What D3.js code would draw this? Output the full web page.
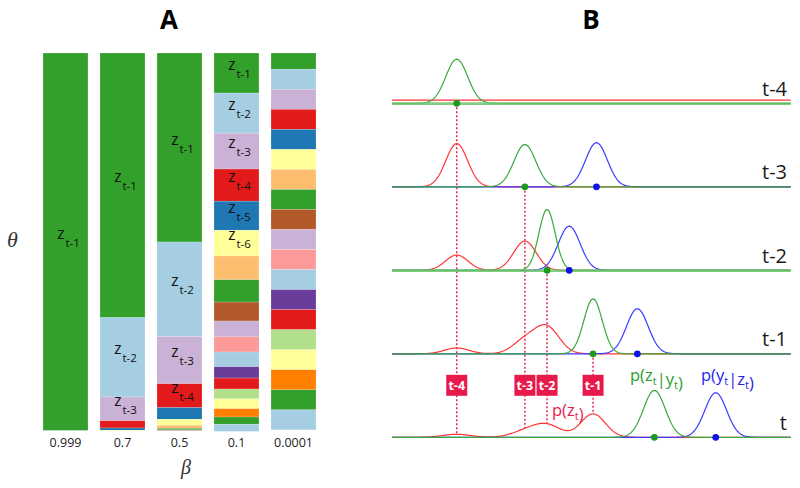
<!DOCTYPE html>
<html><head><meta charset="utf-8">
<script src="https://cdn.jsdelivr.net/npm/d3@7"></script>
<style>body{margin:0;background:#fff} svg{display:block}</style>
</head><body>
<svg id="c" width="800" height="488"></svg>
<script>
// ---------- Panel A data ----------
const betaLabels = ["0.999", "0.7", "0.5", "0.1", "0.0001"];
const bar0999 = [0.999, 0.001];
const bar07 = [0.7, 0.21, 0.063, 0.019, 0.006, 0.002];
const bar05 = [0.5, 0.25, 0.125, 0.063, 0.031, 0.016, 0.008, 0.004, 0.002, 0.001];
const bar01 = [0.106, 0.106, 0.095, 0.085, 0.077, 0.068, 0.063, 0.059, 0.050, 0.042, 0.040, 0.039, 0.030, 0.029, 0.026, 0.026, 0.022, 0.019, 0.019];
const bar00001 = [0.043, 0.053, 0.053, 0.053, 0.053, 0.053, 0.053, 0.053, 0.053, 0.053, 0.053, 0.053, 0.053, 0.053, 0.053, 0.053, 0.053, 0.053, 0.053];
const barValues = [bar0999, bar07, bar05, bar01, bar00001];
const labeledCounts = [1, 3, 4, 6, 0];
const segmentColors = ["#33a02c", "#a6cee3", "#cab2d6", "#e31a1c", "#1f78b4", "#ffff99", "#fdbf6f", "#33a02c", "#b15928", "#cab2d6", "#fb9a99", "#a6cee3", "#6a3d9a", "#e31a1c", "#b2df8a", "#ffff99", "#ff7f00", "#33a02c", "#a6cee3"];

// ---------- Panel B data ----------
const rows = ["t-4", "t-3", "t-2", "t-1", "t"];
const priorFlat = [0.07, 0, 0, 0, 0];
const priorMeans = [[], [0], [0, 2.0], [0, 2.0, 2.65], [0, 2.0, 2.65, 4.0]];
const priorPeaks = [[], [0.96], [0.34, 0.65], [0.13, 0.29, 0.58], [0.067, 0.128, 0.27, 0.52]];
const priorSds = [[], [0.32], [0.33, 0.33], [0.36, 0.36, 0.36], [0.4, 0.4, 0.4, 0.36]];
const posteriorMean = [0, 2.0, 2.65, 4.0, 5.8];
const posteriorPeak = [0.98, 0.94, 1.35, 1.22, 1.04];
const posteriorSd = [0.32, 0.32, 0.24, 0.27, 0.32];
const likelihoodMean = [null, 4.1, 3.3, 5.3, 7.6];
const likelihoodPeak = [null, 0.98, 0.98, 1.0, 0.99];
const likelihoodSd = [null, 0.32, 0.32, 0.32, 0.32];
const markerLabels = ["t-4", "t-3", "t-2", "t-1"];

const svg = d3.select("#c");
const FONT = "'Open Sans', sans-serif";

// ================= Panel A =================
const xA = d3.scaleBand().domain(betaLabels).range([37, 322]).paddingInner(12 / 57).paddingOuter(6 / 57);
const yA = d3.scaleLinear().domain([0, 1]).range([53, 431]);
const gA = svg.append("g");

barValues.forEach((vals, bi) => {
  let cum = 0;
  const segs = vals.map((v, i) => { const s = { y0: cum, y1: cum + v, c: segmentColors[i % segmentColors.length], i }; cum += v; return s; });
  const g = gA.append("g");
  g.selectAll("rect").data(segs).join("rect")
    .attr("x", xA(betaLabels[bi]))
    .attr("width", xA.bandwidth())
    .attr("y", d => yA(d.y0))
    .attr("height", d => Math.max(0, yA(d.y1) - yA(d.y0)))
    .attr("fill", d => d.c)
    .attr("stroke", "#ffffff").attr("stroke-opacity", 0.35).attr("stroke-width", 0.5);
  segs.slice(0, labeledCounts[bi]).forEach(d => {
    const cy = (yA(d.y0) + yA(d.y1)) / 2;
    const t = g.append("text")
      .attr("x", xA(betaLabels[bi]) + xA.bandwidth() / 2 + 3)
      .attr("y", cy - 3)
      .attr("text-anchor", "middle")
      .attr("font-family", FONT).attr("font-size", 15.5).attr("fill", "#111");
    t.append("tspan").text("z");
    t.append("tspan").attr("dx", 1).attr("dy", 8).attr("font-size", 11.5).text("t-" + (d.i + 1));
  });
});

const axA = gA.append("g").attr("transform", "translate(0,431)")
  .call(d3.axisBottom(xA).tickSize(0).tickPadding(7));
axA.select(".domain").remove();
axA.selectAll("text").attr("font-family", FONT).attr("font-size", 12.5).attr("fill", "#222");

svg.append("text").attr("x", 169).attr("y", 29).attr("text-anchor", "middle")
  .attr("font-family", FONT).attr("font-weight", "bold").attr("font-size", 26).attr("fill", "#000").text("A");
svg.append("text").attr("x", 186).attr("y", 474).attr("text-anchor", "middle")
  .attr("font-family", "'Liberation Serif', serif").attr("font-style", "italic").attr("font-size", 20).attr("fill", "#333").text("β");
svg.append("text").attr("x", 12.5).attr("y", 247).attr("text-anchor", "middle")
  .attr("font-family", "'Liberation Serif', serif").attr("font-style", "italic").attr("font-size", 22).attr("fill", "#333").text("θ");

// ================= Panel B =================
const xB = d3.scaleLinear().domain([-1.9, 9.8]).range([392, 790.7]);
const yRow = d3.scalePoint().domain(rows).range([103.3, 437.3]);
const amp = d3.scaleLinear().domain([0, 1]).range([0, 45]);
const gB = svg.append("g");

const mix = (means, peaks, sds, flat) => x => {
  let s = flat || 0;
  means.forEach((m, i) => { s += peaks[i] * Math.exp(-((x - m) ** 2) / (2 * sds[i] ** 2)); });
  return s;
};
const xs = d3.range(-1.9, 9.8001, 0.02);
const RED = "#ff3535", GREEN = "#3aa83a", BLUE = "#3a3aff", CRIMSON = "#e8194b";

svg.append("text").attr("x", 591).attr("y", 29).attr("text-anchor", "middle")
  .attr("font-family", FONT).attr("font-weight", "bold").attr("font-size", 26).attr("fill", "#000").text("B");

// dotted marker lines (from posterior dot to the prior curve at time t)
const priorT = mix(priorMeans[4], priorPeaks[4], priorSds[4], priorFlat[4]);
markerLabels.forEach((lab, i) => {
  const m = posteriorMean[i];
  gB.append("line")
    .attr("x1", xB(m)).attr("x2", xB(m))
    .attr("y1", yRow(rows[i])).attr("y2", yRow("t") - amp(priorT(m)))
    .attr("stroke", CRIMSON).attr("stroke-width", 1.4).attr("stroke-dasharray", "2,2");
});

rows.forEach((r, ri) => {
  const base = yRow(r);
  const g = gB.append("g");
  const line = f => d3.line().x(x => xB(x)).y(x => base - amp(f(x)))(xs);
  g.append("path").attr("d", line(mix(priorMeans[ri], priorPeaks[ri], priorSds[ri], priorFlat[ri])))
    .attr("fill", "none").attr("stroke", RED).attr("stroke-width", 1.2);
  if (likelihoodMean[ri] !== null) {
    g.append("path").attr("d", line(mix([likelihoodMean[ri]], [likelihoodPeak[ri]], [likelihoodSd[ri]], 0)))
      .attr("fill", "none").attr("stroke", BLUE).attr("stroke-width", 1.2);
  }
  g.append("path").attr("d", line(mix([posteriorMean[ri]], [posteriorPeak[ri]], [posteriorSd[ri]], 0)))
    .attr("fill", "none").attr("stroke", GREEN).attr("stroke-width", 1.2);
  if (r === "t-4" || r === "t-2") {
    g.append("line").attr("x1", xB.range()[0]).attr("x2", xB.range()[1]).attr("y1", base + 0.3).attr("y2", base + 0.3)
      .attr("stroke", "#6cc46c").attr("stroke-width", 2.6).attr("stroke-opacity", 0.85);
  }
  g.append("circle").attr("cx", xB(posteriorMean[ri])).attr("cy", base).attr("r", 3.4).attr("fill", "#1a9a1a");
  if (likelihoodMean[ri] !== null) {
    g.append("circle").attr("cx", xB(likelihoodMean[ri])).attr("cy", base).attr("r", 3.4).attr("fill", "#1010e8");
  }
  g.append("text").attr("x", 787).attr("y", base - 7.5).attr("text-anchor", "end")
    .attr("font-family", FONT).attr("font-size", 20).attr("fill", "#1a1a1a").text(r);
});

// marker boxes
markerLabels.forEach((lab, i) => {
  const cx = xB(posteriorMean[i]), cy = yRow("t-1") + 31.5;
  gB.append("rect").attr("x", cx - 10.5).attr("y", cy - 10.5).attr("width", 21).attr("height", 21).attr("fill", CRIMSON);
  gB.append("text").attr("x", cx).attr("y", cy + 4.5).attr("text-anchor", "middle")
    .attr("font-family", FONT).attr("font-weight", "bold").attr("font-size", 12.5).attr("fill", "#fff").text(lab);
});

// distribution labels
function distLabel(x, y, color, parts) {
  const t = gB.append("text").attr("x", x).attr("y", y).attr("font-family", FONT).attr("font-size", 16.5).attr("fill", color);
  parts.forEach(p => {
    if (p.sub) {
      t.append("tspan").attr("dy", 4).attr("font-size", 11).text(p.sub);
      t.append("tspan").attr("dy", -4).text("");
    } else {
      t.append("tspan").text(p.s);
    }
  });
}
distLabel(552, 416, CRIMSON, [{ s: "p(z" }, { sub: "t" }, { s: ")" }]);
distLabel(630, 381, "#2a9e2a", [{ s: "p(z" }, { sub: "t" }, { s: "|y" }, { sub: "t" }, { s: ")" }]);
distLabel(701, 381, "#2222ee", [{ s: "p(y" }, { sub: "t" }, { s: "|z" }, { sub: "t" }, { s: ")" }]);
</script>
</body></html>
